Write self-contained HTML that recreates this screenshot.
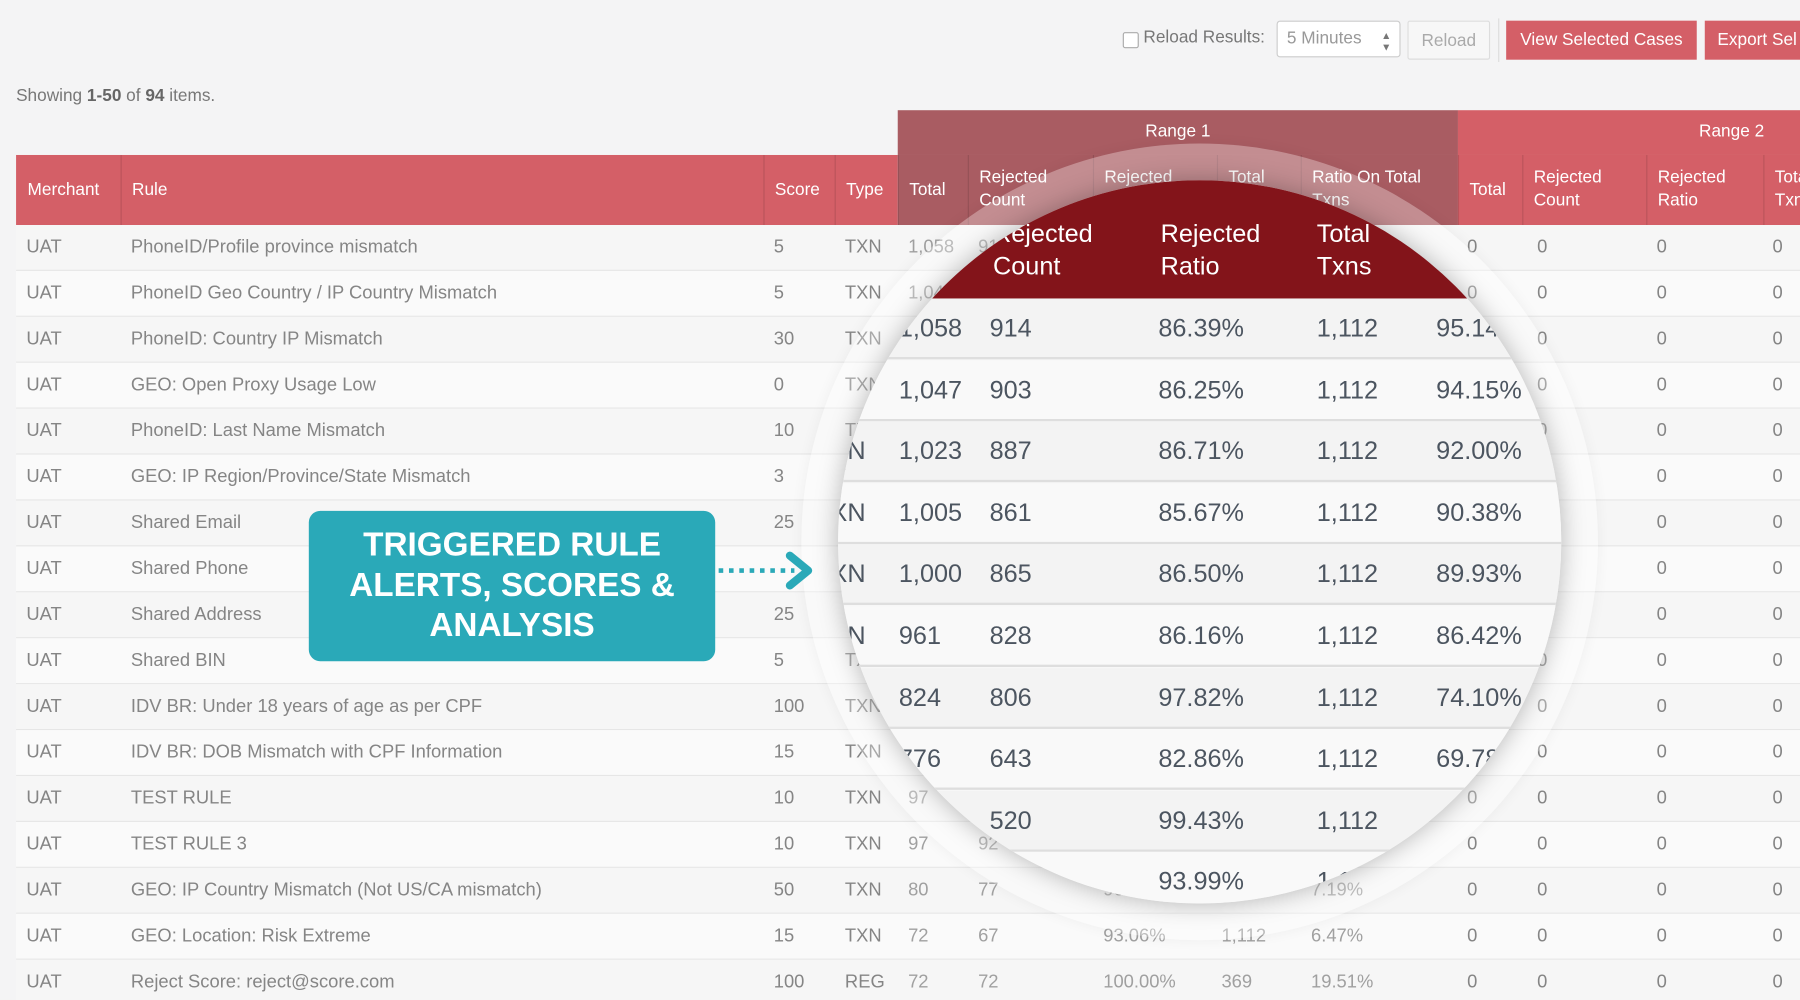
<!DOCTYPE html>
<html><head><meta charset="utf-8">
<style>
html,body{margin:0;padding:0;width:1800px;height:1000px;overflow:hidden;background:#f4f4f5;}
#wrap{position:absolute;left:0;top:0;width:1568px;height:871px;transform:scale(1.148);transform-origin:0 0;font-family:"Liberation Sans",sans-serif;overflow:hidden;background:#f4f4f5;}
.a{position:absolute;white-space:nowrap;}
.cell{position:absolute;font-size:16px;color:#858585;white-space:nowrap;}
.hd{position:absolute;font-size:15px;color:#fff;line-height:20px;}
.btn{position:absolute;font-size:15px;text-align:center;line-height:34px;height:34px;box-sizing:border-box;}
.m{position:absolute;font-size:22px;color:#4c5560;white-space:nowrap;}
</style></head><body>
<div id="wrap">
  <div class="a" style="left:978px;top:28px;width:12px;height:12px;border:1px solid #aaa;background:#fff;border-radius:2px;"></div>
  <div class="a" style="left:996px;top:24px;font-size:15px;color:#777;">Reload Results:</div>
  <div class="a" style="left:1112px;top:18px;width:108px;height:32px;box-sizing:border-box;border:1px solid #ccc;background:#fff;border-radius:3px;font-size:15px;color:#999;line-height:30px;padding-left:8px;">5 Minutes<span style="position:absolute;right:7px;top:7px;font-size:9px;line-height:10px;color:#777;">▲<br>▼</span></div>
  <div class="btn" style="left:1226px;top:18px;width:72px;border:1px solid #ddd;background:#f7f7f7;color:#aaa;border-radius:2px;">Reload</div>
  <div class="a" style="left:1305px;top:16px;width:1px;height:38px;background:#ddd;"></div>
  <div class="btn" style="left:1312px;top:18px;width:166px;background:#d45f67;color:#fff;">View Selected Cases</div>
  <div class="btn" style="left:1485px;top:18px;width:100px;background:#d45f67;color:#fff;text-align:left;padding-left:11px;">Export Sel</div>
  <div class="a" style="left:14px;top:75px;font-size:15px;color:#777;">Showing <b style="color:#666">1-50</b> of <b style="color:#666">94</b> items.</div>

  <div class="a" style="left:782px;top:96px;width:488px;height:39px;background:#a95c62;color:#fff;font-size:15px;text-align:center;line-height:38px;">Range 1</div>
  <div class="a" style="left:1270px;top:96px;width:300px;height:39px;background:#d45f67;color:#fff;font-size:15px;line-height:38px;"><span style="position:absolute;left:210px;">Range 2</span></div>
  <div class="a" style="left:14px;top:135px;width:768px;height:61px;background:#d45f67;"></div>
  <div class="a" style="left:782px;top:135px;width:488px;height:61px;background:#a95c62;"></div>
  <div class="a" style="left:1270px;top:135px;width:300px;height:61px;background:#d45f67;"></div>
  <div id="hdrs"></div>
  <div id="rows"></div>

  <div class="a" style="left:698px;top:125px;width:694px;height:694px;border-radius:50%;background:rgba(255,255,255,0.3);box-shadow:0 0 12px rgba(0,0,0,0.05);"></div>
  <div class="a" id="lens" style="left:730px;top:157px;width:630px;height:630px;border-radius:50%;overflow:hidden;background:#f7f7f7;box-shadow:0 0 22px rgba(0,0,0,0.28);">
    <div id="lensin" style="position:absolute;left:-730px;top:-157px;width:1568px;height:871px;"></div>
  </div>

  <div class="a" style="left:269px;top:445px;width:354px;height:131px;background:#2aa9b8;border-radius:10px;color:#fff;font-weight:bold;font-size:29px;line-height:35px;text-align:center;white-space:normal;padding-top:13px;box-sizing:border-box;">TRIGGERED RULE<br>ALERTS, SCORES &amp;<br>ANALYSIS</div>
  <svg class="a" style="left:620px;top:478px;" width="100" height="40">
    <line x1="6" y1="19" x2="72" y2="19" stroke="#2aa9b8" stroke-width="4" stroke-dasharray="4,5"/>
    <polyline points="68,6 84,19 68,32" fill="none" stroke="#2aa9b8" stroke-width="7" stroke-linecap="round" stroke-linejoin="round"/>
  </svg>
</div>
<script>
const rules=["PhoneID/Profile province mismatch","PhoneID Geo Country / IP Country Mismatch","PhoneID: Country IP Mismatch","GEO: Open Proxy Usage Low","PhoneID: Last Name Mismatch","GEO: IP Region/Province/State Mismatch","Shared Email","Shared Phone","Shared Address","Shared BIN","IDV BR: Under 18 years of age as per CPF","IDV BR: DOB Mismatch with CPF Information","TEST RULE","TEST RULE 3","GEO: IP Country Mismatch (Not US/CA mismatch)","GEO: Location: Risk Extreme","Reject Score: reject@score.com"];
const scores=["5","5","30","0","10","3","25","","25","5","100","15","10","10","50","15","100"];
const types=["TXN","TXN","TXN","TXN","TXN","TXN","TXN","TXN","TXN","TXN","TXN","TXN","TXN","TXN","TXN","TXN","REG"];
const totals=["1,058","1,047","1,023","1,005","1,000","961","824","776","523","558","520","400","97","97","80","72","72"];
const rejCounts=["914","903","887","861","865","828","806","643","520","524","500","380","92","92","77","67","72"];
const rejRatios=["86.39%","86.25%","86.71%","85.67%","86.50%","86.16%","97.82%","82.86%","99.43%","93.99%","96.15%","95.00%","94.85%","94.85%","96.25%","93.06%","100.00%"];
const totalTxns=["1,112","1,112","1,112","1,112","1,112","1,112","1,112","1,112","1,112","1,112","1,112","1,112","1,112","1,112","1,112","1,112","369"];
const ratioTotal=["95.14%","94.15%","92.00%","90.38%","89.93%","86.42%","74.10%","69.78%","47.03%","50.18%","46.76%","35.97%","8.72%","8.72%","7.19%","6.47%","19.51%"];
const heads=[[14,"Merchant"],[105,"Rule"],[665,"Score"],[727,"Type"],[782,"Total"],[843,"Rejected<br>Count"],[952,"Rejected<br>Ratio"],[1060,"Total<br>Txns"],[1133,"Ratio On Total<br>Txns"],[1270,"Total"],[1326,"Rejected<br>Count"],[1434,"Rejected<br>Ratio"],[1536,"Total<br>Txns"]];
const hd=document.getElementById('hdrs');
heads.forEach((h,i)=>{
  const d=document.createElement('div');d.className='hd';
  
  
  const two=h[1].indexOf('<br>')>0;
  d.style.left=(h[0]+10)+'px';d.style.top=(two?145:156)+'px';d.innerHTML=h[1];hd.appendChild(d);
  if(i>0){const s=document.createElement('div');s.className='a';
    
    
    s.style.cssText='left:'+h[0]+'px;top:135px;width:1px;height:61px;background:rgba(0,0,0,0.12)';hd.appendChild(s);}
});
const rw=document.getElementById('rows');
const colX=[23,114,674,736,791,852,961,1064,1142,1278,1339,1443,1544];
rules.forEach((r,i)=>{
  const y=196+i*40;
  const row=document.createElement('div');row.className='a';
  
  
  row.style.cssText='left:14px;top:'+y+'px;width:1560px;height:39px;border-bottom:1px solid #e6e6e6;background:'+(i%2?'#fafafa':'#f6f6f6');
  rw.appendChild(row);
  const vals=["UAT",r,scores[i],types[i],totals[i],rejCounts[i],rejRatios[i],totalTxns[i],ratioTotal[i],"0","0","0","0"];
  vals.forEach((v,j)=>{const c=document.createElement('div');c.className='cell';
    
    
    c.style.left=colX[j]+'px';c.style.top=(y+11)+'px';c.textContent=v;if(j>=4&&j<=8)c.style.color='#a0a0a0';rw.appendChild(c);});
});
const L=document.getElementById('lensin');
const mh=document.createElement('div');mh.className='a';


mh.style.cssText='left:600px;top:100px;width:900px;height:160px;background:#83141a';L.appendChild(mh);
[[865,"Rejected<br>Count"],[1011,"Rejected<br>Ratio"],[1147,"Total<br>Txns"]].forEach(h=>{
  const d=document.createElement('div');d.className='m';
  
  
  d.style.cssText='left:'+h[0]+'px;top:190px;color:#fff;line-height:28px;';d.innerHTML=h[1];L.appendChild(d);});
const mX=[783,862,1009,1147,1251];
for(let i=0;i<10;i++){
  const y=260+i*53.6;
  const b=document.createElement('div');b.className='a';
  
  
  b.style.cssText='left:600px;top:'+y+'px;width:900px;height:51px;border-bottom:2px solid #dedede;background:'+(i%2?'#f9f9f9':'#f3f3f3');L.appendChild(b);
  const vals=[totals[i],rejCounts[i],rejRatios[i],totalTxns[i],ratioTotal[i]];
  const t=document.createElement('div');t.className='m';
  
  
  t.style.left='710px';t.style.top=(y+13)+'px';t.textContent=types[i];L.appendChild(t);
  vals.forEach((v,j)=>{const c=document.createElement('div');c.className='m';
    
    
    c.style.left=mX[j]+'px';c.style.top=(y+13)+'px';c.textContent=v;L.appendChild(c);});
}
</script>
</body></html>
